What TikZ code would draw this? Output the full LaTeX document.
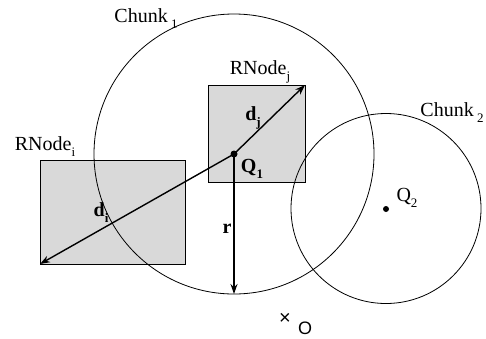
\documentclass[tikz,border=0pt]{standalone}
\usepackage{fontspec}
\setmainfont{Liberation Serif}
\newfontfamily\sansf{Liberation Sans}
\usetikzlibrary{arrows.meta}
\newcommand\sbx[1]{\raisebox{-0.3em}{\fontsize{13}{13}\selectfont #1}}
\begin{document}
\begin{tikzpicture}[x=1pt,y=-1pt,
 box/.style={draw=black, line width=0.9pt, fill=black!15, inner sep=0pt, outer sep=0pt},
 chunk/.style={draw=black, line width=0.8pt, circle, inner sep=0pt, outer sep=0pt},
 vec/.style={line width=1.4pt, -{Stealth[length=10pt,width=7pt]}},
 lbl/.style={font=\fontsize{20}{23}\selectfont, inner sep=0pt},
 dot/.style={circle, fill=black, inner sep=0pt, minimum size=#1},
 dot/.default=7pt]
\useasboundingbox (0,0) rectangle (486,338);
% rectangles
\node[box, minimum width=97pt, minimum height=97pt] (rj) at (256.5,133.5) {};
\node[box, minimum width=145pt, minimum height=104pt] (ri) at (112.5,212) {};
% chunks
\node[chunk, minimum size=280pt] (c1) at (234,154) {};
\node[chunk, minimum size=190pt] (c2) at (386,208.5) {};
% query points
\node[dot] (q1) at (234,154) {};
\node[dot=6pt] (q2) at (386,209) {};
% vectors
\draw[vec] (q1.center) -- (rj.north east);
\draw[vec] (q1.center) -- (ri.south west);
\draw[vec] (q1.center) -- (c1.south);
% labels
\node[lbl] (lc1) at (146,19) {Chunk\,\sbx{1}};
\node[lbl] (lc2) at (452,113) {Chunk\,\sbx{2}};
\node[lbl] (lri) at (45,147) {RNode\sbx{i}};
\node[lbl] (lrj) at (260,72) {RNode\sbx{j}};
\node[lbl] (ldj) at (253,118) {\textbf{d}\sbx{\textbf{j}}};
\node[lbl] (ldi) at (101,213) {\textbf{d}\sbx{\textbf{i}}};
\node[lbl] (lq1) at (252,169) {\textbf{Q}\sbx{\textbf{1}}};
\node[lbl] (lq2) at (407,198) {Q\sbx{2}};
\node[lbl] (lr) at (227,229) {\textbf{r}};
\node[lbl, font=\fontsize{20}{22}\sansf] (lo) at (285,319) {×};
\node[lbl, font=\fontsize{18}{20}\sansf] (lo2) at (305,328) {O};
\end{tikzpicture}
\end{document}
